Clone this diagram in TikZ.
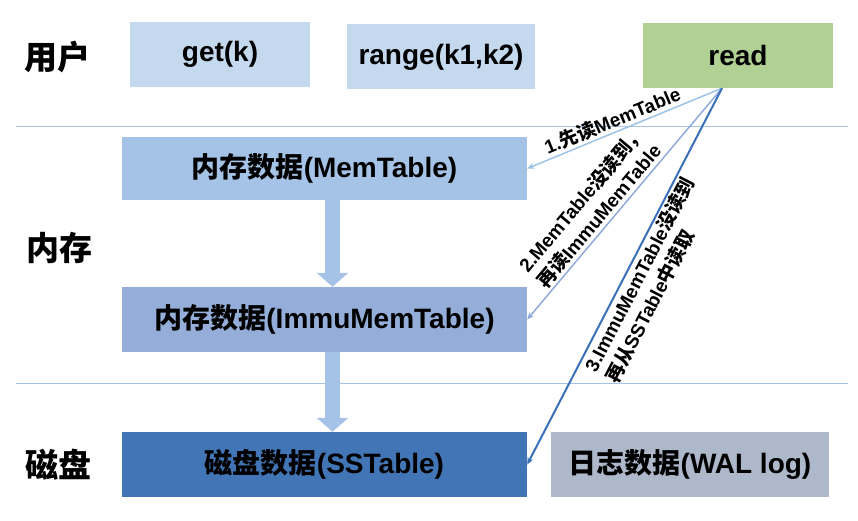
\documentclass[tikz,border=0pt]{standalone}
\usepackage{fontspec}
\setmainfont{Liberation Sans}
\newfontfamily\zhfont{Noto Sans CJK SC}
\newcommand{\zh}[1]{{\zhfont #1}}
\usetikzlibrary{arrows.meta}

\definecolor{userc}{HTML}{C5D9EE}
\definecolor{readc}{HTML}{B0D094}
\definecolor{memc}{HTML}{A5C3E6}
\definecolor{immuc}{HTML}{94ADD9}
\definecolor{ssc}{HTML}{4275B5}
\definecolor{walc}{HTML}{ADB9CA}
\definecolor{sepline}{HTML}{A9C3E8}
\definecolor{rdone}{HTML}{9DC3E6}
\definecolor{rdtwo}{HTML}{8FAADC}
\definecolor{rdthree}{HTML}{3A70B8}

\begin{document}
\begin{tikzpicture}[x=1pt,y=-1pt,font=\bfseries,
	box/.style={minimum height=65pt,inner sep=0pt,font=\fontsize{28}{33}\selectfont\bfseries},
	layer/.style={font=\fontsize{33}{38}\selectfont\bfseries\zhfont},
	sep/.style={draw=sepline,line width=1pt},
	flow/.style={draw=memc,line width=15pt,-{Triangle[width=31pt,length=14pt]}},
	rd/.style={line width=1.5pt,{Stealth[length=7pt,width=6pt]}-},
	note/.style={font=\fontsize{19}{24}\selectfont\bfseries,text=black,sloped,inner sep=2pt,align=left}]
	\useasboundingbox (0,0) rectangle (858,521);

	% layers
	\node[layer] (lbluser) at (57,57) {用户};
	\node[layer] (lblmem) at (59,248) {内存};
	\node[layer] (lbldisk) at (58,465) {磁盘};
	\draw[sep] (16,127) -- (848,127);
	\draw[sep] (16,383) -- (848,383);

	% boxes
	\node[box,fill=userc,minimum width=180pt] (get) at (220,54.5) {get(k)};
	\node[box,fill=userc,minimum width=188pt] (range) at (441,57) {range(k1,k2)};
	\node[box,fill=readc,minimum width=190pt] (read) at (738,55.5) {read};
	\node[box,fill=memc,minimum width=405pt,minimum height=63pt] (mem) at (324.5,168.5) {\zh{内存数据}(MemTable)};
	\node[box,fill=immuc,minimum width=405pt] (immu) at (324.5,319.5) {\zh{内存数据}(ImmuMemTable)};
	\node[box,fill=ssc,minimum width=405pt] (ss) at (324.5,464.5) {\zh{磁盘数据}(SSTable)};
	\node[box,fill=walc,minimum width=278pt] (wal) at (690,464.5) {\zh{日志数据}(WAL log)};

	% flush
	\draw[flow] ([xshift=8pt]mem.south) -- ([xshift=8pt]immu.north);
	\draw[flow] ([xshift=8pt]immu.south) -- ([xshift=8pt]ss.north);

	% read path
	\coordinate (src) at ([xshift=-16pt]read.south);
	\draw[rd,color=rdone] (mem.east) -- node[note,above,pos=0.46] {1.\zh{先读}MemTable} (src);
	\draw[rd,color=rdtwo] (immu.east) -- node[note,above,pos=0.42] {2.MemTable\zh{没读到，}\\\zh{再读}ImmuMemTable} (src);
	\draw[rd,color=rdthree,line width=2pt] (ss.east) -- node[note,below,pos=0.52] {3.ImmuMemTable\zh{没读到}\\\zh{再从}SSTable\zh{中读取}} (src);
\end{tikzpicture}
\end{document}
